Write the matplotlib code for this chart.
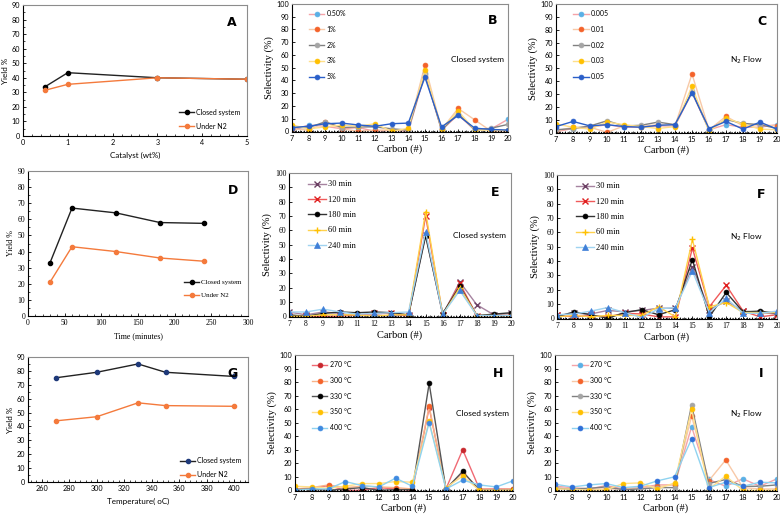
import numpy as np
import matplotlib
matplotlib.use('Agg')
import matplotlib.pyplot as plt
from matplotlib.ticker import AutoMinorLocator, MultipleLocator

# ---- yield panels ----
cat_wt = [0.5, 1, 3, 5]
cat_closed = [34, 43.5, 40, 39]
cat_n2 = [31.5, 35.5, 40, 39]

time_min = [30, 60, 120, 180, 240]
time_closed = [33, 67, 64, 58, 57.5]
time_n2 = [21, 43, 40, 36, 34]

temp_c = [270, 300, 330, 350, 400]
temp_closed = [75, 79, 85, 79, 76]
temp_n2 = [44, 47, 57, 55, 54.5]

# ---- selectivity panels ----
carbon = list(range(7, 21))

b_labels = ['0.50%', '1%', '2%', '3%', '5%']
b_vals = [
    [0.5, 5, 4, 2, 3, 0, 1, 0, 45, 1, 13, 1, 2, 9.5],
    [2, 1, 7, 2, 0, 1, 1, 1, 52, 1.5, 18, 9, 0, 0.5],
    [3, 3, 7.5, 3, 3.5, 3.5, 2, 1, 46, 1, 14, 1, 2.5, 5.5],
    [5, 2, 3.5, 5, 4, 6, 0, 2.5, 48, 2, 16, 1, 1, 1],
    [3, 4, 6, 6.5, 5, 4, 6, 6.5, 42.5, 3.5, 12.5, 2.5, 1.5, 1],
]

c_labels = ['0.005', '0.01', '0.02', '0.03', '0.05']
c_vals = [
    [0.5, 3, 4, 6, 4, 4, 5, 5, 31, 2, 6, 4, 4, 6],
    [1, 4, 4, 0, 5, 4.5, 6, 5, 45.5, 2, 12.5, 5, 6, 5],
    [2, 3, 5, 9, 5, 5.5, 8, 6, 32, 2, 10, 7, 6, 3],
    [6.5, 4, 2.5, 8, 6, 4.5, 3, 4.5, 36, 0.5, 11, 6.5, 2.5, 2],
    [4.5, 8.5, 5, 6, 4.5, 4, 5.5, 6, 31, 3, 8.5, 2.5, 8, 2.5],
]

e_labels = ['30 min', '120 min', '180 min', '60 min', '240 min']
e_vals = [
    [3, 1, 3, 2, 0, 1, 0, 1, 57, 1, 24, 8, 1, 2],
    [0, 0, 0, 0, 1, 2, 2, 0, 70, 1, 23, 0.5, 0.5, 0.5],
    [1, 0, 2, 3, 2.5, 3, 2.5, 1, 56, 2, 21, 0.5, 1.5, 2.5],
    [0, 0, 1, 1, 1, 0, 1, 1, 73, 1, 20, 0.5, 0.5, 0.5],
    [3, 3, 5, 3, 1.5, 2, 2.5, 3, 59, 1.5, 18, 0.5, 0.5, 0.5],
]

f_labels = ['30 min', '120 min', '180 min', '60 min', '240 min']
f_vals = [
    [2, 3.5, 3, 5.5, 4.5, 5.5, 7, 7, 36, 6, 12, 5, 4, 3],
    [2, 1, 2, 1, 3.5, 3, 1, 1, 49, 8, 23, 5, 1, 2.5],
    [1, 4.5, 2.5, 0, 4, 6, 2.5, 6, 41, 1, 18, 4.5, 5, 3.5],
    [1, 2, 1, 2, 2, 2, 8, 1, 55, 8, 11, 4, 4, 4],
    [2.5, 3, 5, 7.5, 4, 0.5, 6.5, 7.5, 33, 4, 14, 3.5, 3.5, 5],
]

h_labels = ['270 \u00b0C', '300 \u00b0C', '330 \u00b0C', '350 \u00b0C', '400 \u00b0C']
h_vals = [
    [0, 1.5, 3.5, 0, 0, 2, 1, 0, 61, 1, 30, 1, 1, 1],
    [1, 2, 4, 2, 3, 2.5, 2, 1, 62, 1, 13, 1, 0.5, 1],
    [0.5, 1, 0, 1, 2, 0, 0.5, 0.5, 79, 1, 14, 0, 0, 0],
    [3, 2.5, 1.5, 3, 5, 5, 6.5, 6, 51, 2, 10.5, 0, 0, 0],
    [0, 1, 1, 6.5, 3.5, 2.5, 9, 3, 50, 1, 7.5, 4, 2.5, 7],
]

i_labels = ['270 \u00b0C', '300 \u00b0C', '330 \u00b0C', '350 \u00b0C', '400 \u00b0C']
i_vals = [
    [3, 2, 1, 3.5, 1, 2, 4, 4, 47, 8, 3, 8.5, 3, 8.5],
    [2, 0.5, 1, 1, 1, 2, 3, 4, 55, 7, 22.5, 2, 1, 1],
    [1.5, 1, 1.5, 2.5, 0.5, 1, 2, 2, 63, 5, 8, 3, 3, 4],
    [1, 1, 0, 0.5, 5, 5.5, 1, 5.5, 60, 1, 10.5, 0, 0, 0],
    [4.5, 2.5, 4, 5, 2, 3, 7, 10, 38, 2, 6, 3, 6, 5.5],
]

SANS = 'Lato'
SERIF = 'Liberation Serif'
ORANGE = '#f47a3c'

# line colour, marker colour, marker
warm_style = [('#f5a3a8', '#5ab0e6', 'o'), ('#f8c9a8', '#f4622a', 'o'),
              ('#808080', '#a5a5a5', 'o'), ('#ffe08a', '#ffc000', 'o'),
              ('#2a5fc9', '#2a5fc9', 'o')]
time_style = [('#a683a0', '#6b3f63', 'x'), ('#f05a5a', '#e02020', 'x'),
              ('#333333', '#000000', 'o'), ('#ffd24d', '#ffc000', '+'),
              ('#9fd3f0', '#3f7fd8', '^')]
temp_style = [('#f06a74', '#c8282e', 'o'), ('#f9b48a', '#f4622a', 'o'),
              ('#555555', '#000000', 'o'), ('#ffe08a', '#ffc000', 'o'),
              ('#8fd3f0', '#3f8ae0', 'o')]
i_style = warm_style[:4] + [('#8fd3f0', '#2f6fd8', 'o')]


def box(l, t, r, b):
    return [l / 780, 1 - b / 520, (r - l) / 780, (b - t) / 520]


def style_axes(ax, font, size=5.2):
    for s in ['top', 'right']:
        ax.spines[s].set_color('#8c8c8c')
    for s in ax.spines.values():
        s.set_linewidth(0.8)
    ax.tick_params(which='major', direction='in', length=2.5, width=0.6, labelsize=size, pad=2)
    ax.tick_params(which='minor', direction='in', length=1.5, width=0.5)
    ax.tick_params(top=False, right=False, which='both')
    for lab in ax.get_xticklabels() + ax.get_yticklabels():
        lab.set_family(font)


def yield_panel(rect, x, closed, n2, letter, xlabel, xlim, xstep, font, anchor_y, closed_mark='black'):
    ax = fig.add_axes(box(*rect))
    ax.plot(x, closed, color='#222222', lw=1, marker='o', ms=3,
            mfc=closed_mark, mec=closed_mark, label='Closed system')
    ax.plot(x, n2, color=ORANGE, lw=1, marker='o', ms=3, label='Under N2')
    ax.set_xlim(*xlim)
    ax.set_ylim(0, 90)
    ax.xaxis.set_major_locator(MultipleLocator(xstep))
    ax.yaxis.set_major_locator(MultipleLocator(10))
    ax.xaxis.set_minor_locator(AutoMinorLocator(5))
    ax.yaxis.set_minor_locator(AutoMinorLocator(2))
    style_axes(ax, font, 5.5 if font == SERIF else 5.2)
    ax.set_xlabel(xlabel, fontsize=5.8, family=font, labelpad=4)
    ax.set_ylabel('Yield %', fontsize=5.8, family=font, labelpad=2)
    ax.text(0.93, 0.84, letter, transform=ax.transAxes, fontsize=9,
            fontweight='bold', family='DejaVu Sans', ha='center')
    ax.legend(loc='lower right', frameon=False, handlelength=2.2,
              labelspacing=1.0, prop={'family': font, 'size': 5},
              bbox_to_anchor=(1.0, anchor_y), handletextpad=0.3)
    return ax


def sel_panel(rect, vals, labels, styles, letter, note, tick_font, leg_font, leg_size, spacing):
    ax = fig.add_axes(box(*rect))
    for v, lab, (lc, mc, mk) in zip(vals, labels, styles):
        ms = 3.5 if mk == 'o' else 4
        ax.plot(carbon, v, color=lc, lw=1, marker=mk, ms=ms, mfc=mc, mec=mc,
                mew=1 if mk in ('x', '+') else 0.5, label=lab)
    ax.set_xlim(7, 20)
    ax.set_ylim(-0.5, 100)
    ax.xaxis.set_major_locator(MultipleLocator(1))
    ax.yaxis.set_major_locator(MultipleLocator(10))
    ax.xaxis.set_minor_locator(AutoMinorLocator(4))
    style_axes(ax, tick_font, 5.5 if tick_font == SERIF else 5.2)
    ax.axhline(0, color='black', lw=0.8, ls=(0, (1, 1.5)))
    ax.set_xlabel('Carbon (#)', fontsize=7.5, family=SERIF, labelpad=2)
    ax.set_ylabel('Selectivity (%)', fontsize=7.5, family=SERIF, labelpad=2)
    ax.text(0.93, 0.84, letter, transform=ax.transAxes, fontsize=9,
            fontweight='bold', family='DejaVu Sans', ha='center')
    ax.text(0.86, 0.55, note, transform=ax.transAxes, fontsize=6,
            family=SANS, ha='center')
    ax.legend(loc='upper left', frameon=False, prop={'family': leg_font, 'size': leg_size},
              handlelength=2.2, labelspacing=spacing, handletextpad=0.3,
              bbox_to_anchor=(0.05, 1.0))
    return ax


fig = plt.figure(figsize=(7.8, 5.2), dpi=100)

yield_panel((23, 5, 247, 136), cat_wt, cat_closed, cat_n2, 'A', 'Catalyst (wt%)', (0, 5), 1, SANS, 0.0)
yield_panel((28, 171, 248, 316), time_min, time_closed, time_n2, 'D', 'Time (minutes)', (0, 300), 50, SERIF, 0.08)
yield_panel((28, 357, 248, 482), temp_c, temp_closed, temp_n2, 'G', 'Temperature( oC)', (250, 410), 20, SANS, -0.02,
            closed_mark='#1f3a7a')

sel_panel((292, 4, 508, 132), b_vals, b_labels, warm_style, 'B', 'Closed system', SANS, SANS, 5, 1.25)
sel_panel((556, 4, 777, 133), c_vals, c_labels, warm_style, 'C', 'N$_2$ Flow', SANS, SANS, 5, 1.25)
sel_panel((289, 173, 511, 317), e_vals, e_labels, time_style, 'E', 'Closed system', SERIF, SERIF, 6, 0.88)
sel_panel((557, 175, 777, 319), f_vals, f_labels, time_style, 'F', 'N$_2$ Flow', SERIF, SERIF, 6, 0.88)
sel_panel((295, 355, 513, 491), h_vals, h_labels, temp_style, 'H', 'Closed system', SANS, SANS, 5, 1.25)
sel_panel((555, 355, 777, 491), i_vals, i_labels, i_style, 'I', 'N$_2$ Flow', SANS, SANS, 5, 1.25)

fig.savefig('out.png', dpi=100)
